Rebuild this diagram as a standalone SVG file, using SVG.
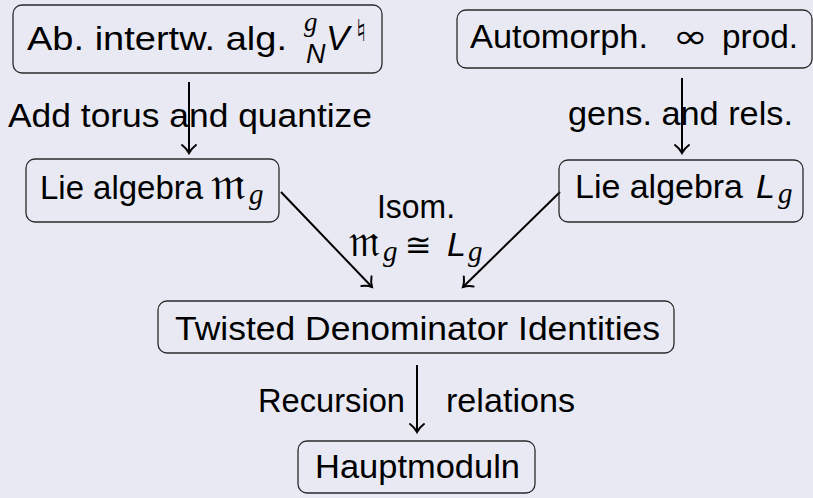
<svg xmlns="http://www.w3.org/2000/svg" width="813" height="498" viewBox="0 0 813 498">
<style>
.bg{fill:#e9e9f3}
.box{fill:none;stroke:#2a2a2a;stroke-width:1.3}
.t{font-family:"Liberation Sans",Arial,sans-serif;font-size:34px;fill:#000}
.mi{font-family:"Liberation Sans",Arial,sans-serif;font-style:italic;fill:#000}
.ms{font-family:"Liberation Serif","Times New Roman",serif;font-style:italic;fill:#000}
.fr{font-family:"DejaVu Serif","DejaVu Sans",serif;fill:#000}
.sym{font-family:"DejaVu Sans",sans-serif;fill:#000}
.arr{fill:none;stroke:#000;stroke-width:2;marker-end:url(#head)}
</style>
<defs>
<marker id="head" markerUnits="userSpaceOnUse" markerWidth="20" markerHeight="20" refX="0" refY="0" viewBox="-11 -10 13 20" orient="auto" overflow="visible">
<path d="M-8,-7 C-5,-3 -2,-1 0,0 C-2,1 -5,3 -8,7" fill="none" stroke="#000" stroke-width="2" stroke-linecap="round"/>
</marker>
</defs>
<rect class="bg" x="0" y="0" width="813" height="498"/>

<g id="connectors">
<line class="arr" x1="189" y1="82" x2="189" y2="153"/>
<line class="arr" x1="682" y1="78" x2="682" y2="153"/>
<line class="arr" x1="281" y1="192" x2="372" y2="287"/>
<line class="arr" x1="560" y1="192" x2="463" y2="287"/>
<line class="arr" x1="417" y1="365" x2="417" y2="432"/>
<text class="t" x="8" y="127" textLength="364" lengthAdjust="spacingAndGlyphs">Add torus and quantize</text>
<text class="t" x="568" y="125" textLength="225" lengthAdjust="spacingAndGlyphs">gens. and rels.</text>
<text class="t" x="377" y="218" textLength="78" lengthAdjust="spacingAndGlyphs">Isom.</text>
<text class="fr" x="349" y="256" font-size="45" textLength="31" lengthAdjust="spacingAndGlyphs">𝔪</text>
<text class="ms" x="383" y="261" font-size="29">g</text>
<text class="sym" x="405" y="256" font-size="32">≅</text>
<text class="mi" x="447" y="256" font-size="34">L</text>
<text class="ms" x="468" y="261" font-size="29">g</text>
<text class="t" x="258" y="412" textLength="147" lengthAdjust="spacingAndGlyphs">Recursion</text>
<text class="t" x="446" y="412" textLength="129" lengthAdjust="spacingAndGlyphs">relations</text>
</g>

<g id="n-abelian">
<rect class="box" x="13" y="5" width="369" height="68" rx="9"/>
<text class="t" x="27" y="50" textLength="260" lengthAdjust="spacingAndGlyphs">Ab. intertw. alg.</text>
<text class="ms" x="304" y="31" font-size="27">g</text>
<text class="mi" x="306" y="63" font-size="27">N</text>
<text class="mi" x="326" y="50" font-size="35">V</text>
<text class="sym" x="356" y="41" font-size="30">♮</text>
</g>

<g id="n-automorph">
<rect class="box" x="457" y="10" width="355" height="58" rx="9"/>
<text class="t" x="470" y="48" textLength="178" lengthAdjust="spacingAndGlyphs">Automorph.</text>
<text class="sym" x="673" y="48" font-size="34" textLength="35" lengthAdjust="spacingAndGlyphs">∞</text>
<text class="t" x="722" y="48" textLength="76" lengthAdjust="spacingAndGlyphs">prod.</text>
</g>

<g id="n-lie-m">
<rect class="box" x="26" y="159" width="253" height="63" rx="9"/>
<text class="t" x="40" y="199" textLength="163" lengthAdjust="spacingAndGlyphs">Lie algebra</text>
<text class="fr" x="211" y="199" font-size="45" textLength="35" lengthAdjust="spacingAndGlyphs">𝔪</text>
<text class="ms" x="249" y="204" font-size="29">g</text>
</g>

<g id="n-lie-l">
<rect class="box" x="559" y="160" width="244" height="62" rx="9"/>
<text class="t" x="575" y="198" textLength="168" lengthAdjust="spacingAndGlyphs">Lie algebra</text>
<text class="mi" x="756" y="198" font-size="34">L</text>
<text class="ms" x="778" y="203" font-size="29">g</text>
</g>

<g id="n-tdi">
<rect class="box" x="158" y="301" width="516" height="52" rx="9"/>
<text class="t" x="175" y="340" textLength="485" lengthAdjust="spacingAndGlyphs">Twisted Denominator Identities</text>
</g>

<g id="n-haupt">
<rect class="box" x="298" y="441" width="237" height="52" rx="9"/>
<text class="t" x="315" y="478" textLength="205" lengthAdjust="spacingAndGlyphs">Hauptmoduln</text>
</g>
</svg>
